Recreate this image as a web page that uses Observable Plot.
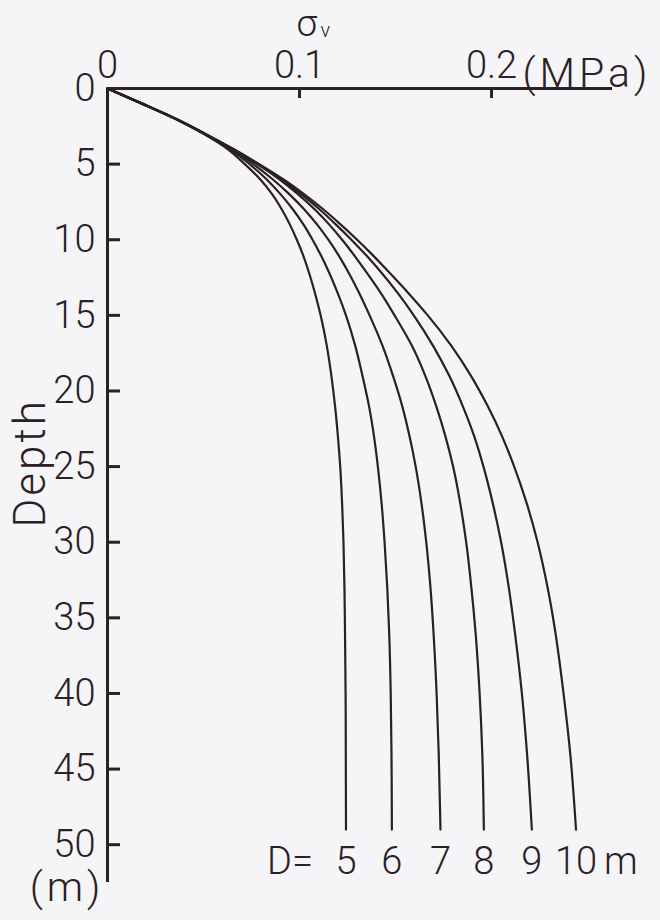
<!DOCTYPE html>
<html><head><meta charset="utf-8">
<script src="https://cdn.jsdelivr.net/npm/d3@7"></script>
<script src="https://cdn.jsdelivr.net/npm/@observablehq/plot@0.6"></script>
<style>
html,body{margin:0;padding:0;background:#f5f4f7;}
#chart svg{display:block;}
</style></head><body><div id="chart"></div>
<script>
// depth z (m)
const depths = [0, 1, 2, 3, 4, 5, 6, 7, 8, 9, 10, 11, 12, 13.5, 15, 17, 19, 21, 23, 25, 27.5, 30, 33, 36, 40, 44, 49];
// vertical stress sigma_v (MPa) for each diameter D
const sigmaD5  = [0, 0.018, 0.0352, 0.050, 0.0625, 0.0715, 0.0795, 0.0858, 0.0908, 0.0950, 0.0986, 0.1018, 0.1045, 0.1080, 0.1110, 0.1142, 0.1166, 0.1185, 0.1200, 0.1212, 0.1222, 0.1229, 0.1234, 0.1237, 0.1240, 0.1241, 0.1242];
const sigmaD6  = [0, 0.018, 0.0354, 0.0505, 0.0638, 0.0740, 0.0828, 0.0902, 0.0966, 0.1021, 0.1068, 0.1110, 0.1148, 0.1198, 0.1242, 0.1290, 0.1328, 0.1362, 0.1388, 0.1408, 0.1428, 0.1443, 0.1457, 0.1467, 0.1475, 0.1479, 0.1481];
const sigmaD7  = [0, 0.018, 0.0355, 0.0507, 0.0645, 0.0760, 0.0860, 0.0948, 0.1025, 0.1092, 0.1150, 0.1202, 0.1248, 0.1310, 0.1365, 0.1432, 0.1487, 0.1535, 0.1573, 0.1605, 0.1636, 0.1660, 0.1682, 0.1698, 0.1714, 0.1725, 0.1734];
const sigmaD8  = [0, 0.018, 0.0355, 0.0508, 0.0650, 0.0780, 0.0895, 0.0993, 0.1080, 0.1155, 0.1222, 0.1283, 0.1340, 0.1422, 0.1495, 0.1585, 0.1655, 0.1712, 0.1760, 0.1800, 0.1838, 0.1868, 0.1895, 0.1917, 0.1938, 0.1952, 0.1960];
const sigmaD9  = [0, 0.018, 0.0355, 0.051, 0.0655, 0.0785, 0.0905, 0.1010, 0.1105, 0.1190, 0.1270, 0.1345, 0.1415, 0.1510, 0.1595, 0.1695, 0.1780, 0.1850, 0.1910, 0.1958, 0.2008, 0.2050, 0.2090, 0.2122, 0.2158, 0.2185, 0.2210];
const sigmaD10 = [0, 0.018, 0.0355, 0.051, 0.0655, 0.0790, 0.0915, 0.1025, 0.1125, 0.1215, 0.1300, 0.1380, 0.1455, 0.1565, 0.1668, 0.1790, 0.1893, 0.1980, 0.2055, 0.2118, 0.2185, 0.2240, 0.2292, 0.2333, 0.2375, 0.2410, 0.2440];
const diameters = [5, 6, 7, 8, 9, 10];
const xTicks = [0, 0.1, 0.2];
const depthTicks = [0, 5, 10, 15, 20, 25, 30, 35, 40, 45, 50];
const xLabel = "σ";
const xLabelSub = "v";
const xUnit = "(MPa)";
const yLabel = "Depth";
const yUnit = "(m)";
const dPrefix = "D=";
const dUnit = "m";

const series = [sigmaD5, sigmaD6, sigmaD7, sigmaD8, sigmaD9, sigmaD10];
const rows = diameters.flatMap((D, i) => depths.map((z, j) => ({D, z, s: series[i][j]})));
const ends = diameters.map((D, i) => ({D, z: depths[depths.length - 1], s: series[i][series[i].length - 1]}));

const W = 660, H = 920, mL = 107, mT = 88, mR = 48, mB = 38;
const plotW = W - mL - mR, plotH = H - mT - mB;
const ink = "#2a2025";
const bg = "#f5f4f7";
const font = "Roboto, 'DejaVu Sans', sans-serif";
const fs = 38;

const chart = Plot.plot({
  width: W, height: H,
  marginLeft: mL, marginTop: mT, marginRight: mR, marginBottom: mB,
  style: {background: bg, fontFamily: font, color: ink, fontWeight: 300},
  x: {domain: [0, 0.263], axis: null},
  y: {domain: [0, 52.5], reverse: true, axis: null},
  marks: [
    Plot.ruleY([0], {stroke: ink, strokeWidth: 3}),
    Plot.ruleX([0], {stroke: ink, strokeWidth: 3}),
    Plot.ruleX(xTicks.filter(d => d > 0), {stroke: ink, strokeWidth: 3, insetBottom: plotH - 10}),
    Plot.ruleY(depthTicks.filter(d => d > 0), {stroke: ink, strokeWidth: 3, insetRight: plotW - 13}),
    Plot.axisX({anchor: "top", ticks: xTicks, tickSize: 0, tickPadding: 11, fontSize: fs, fill: ink,
      tickFormat: d => d === 0 ? "0" : String(d), label: null}),
    Plot.axisY({anchor: "left", ticks: depthTicks, tickSize: 0, tickPadding: 12, fontSize: fs, fill: ink,
      tickFormat: d => String(d), label: null}),
    Plot.line(rows, {x: "s", y: "z", z: "D", stroke: ink, strokeWidth: 2.2, curve: "monotone-y"}),
    Plot.text(ends, {x: "s", y: "z", text: d => String(d.D), dy: 32, fontSize: fs, fill: ink}),
    Plot.text(ends.slice(-1), {x: "s", y: "z", text: () => dUnit, textAnchor: "start", dx: 28, dy: 32, fontSize: fs, fill: ink}),
    Plot.text(ends.slice(0, 1), {x: "s", y: "z", text: () => dPrefix, dx: -56, dy: 32, fontSize: fs, fill: ink}),
    Plot.text([xLabel], {frameAnchor: "top-left", textAnchor: "start", dx: 189, dy: -79, fontSize: 37, fill: ink}),
    Plot.text([xLabelSub], {frameAnchor: "top-left", textAnchor: "start", dx: 213, dy: -66, fontSize: 20, fill: ink}),
    Plot.text([xUnit], {frameAnchor: "top-right", textAnchor: "start", dx: -90, dy: -31, fontSize: 41, fill: ink}),
    Plot.text([yLabel], {frameAnchor: "left", rotate: -90, dx: -77, dy: 42, fontSize: 44, fill: ink}),
    Plot.text([yUnit], {frameAnchor: "bottom-left", textAnchor: "end", dx: -3, dy: 18, fontSize: 41, fill: ink})
  ]
});
d3.select(chart).selectAll("text").filter(function() { return this.textContent === xUnit; }).attr("letter-spacing", 4);
d3.select(chart).selectAll("text").filter(function() { return this.textContent === yUnit; }).attr("letter-spacing", 4);
d3.select(chart).selectAll("text").filter(function() { return this.textContent === yLabel; }).attr("letter-spacing", 3);
document.getElementById("chart").append(chart);
</script>
</body></html>
